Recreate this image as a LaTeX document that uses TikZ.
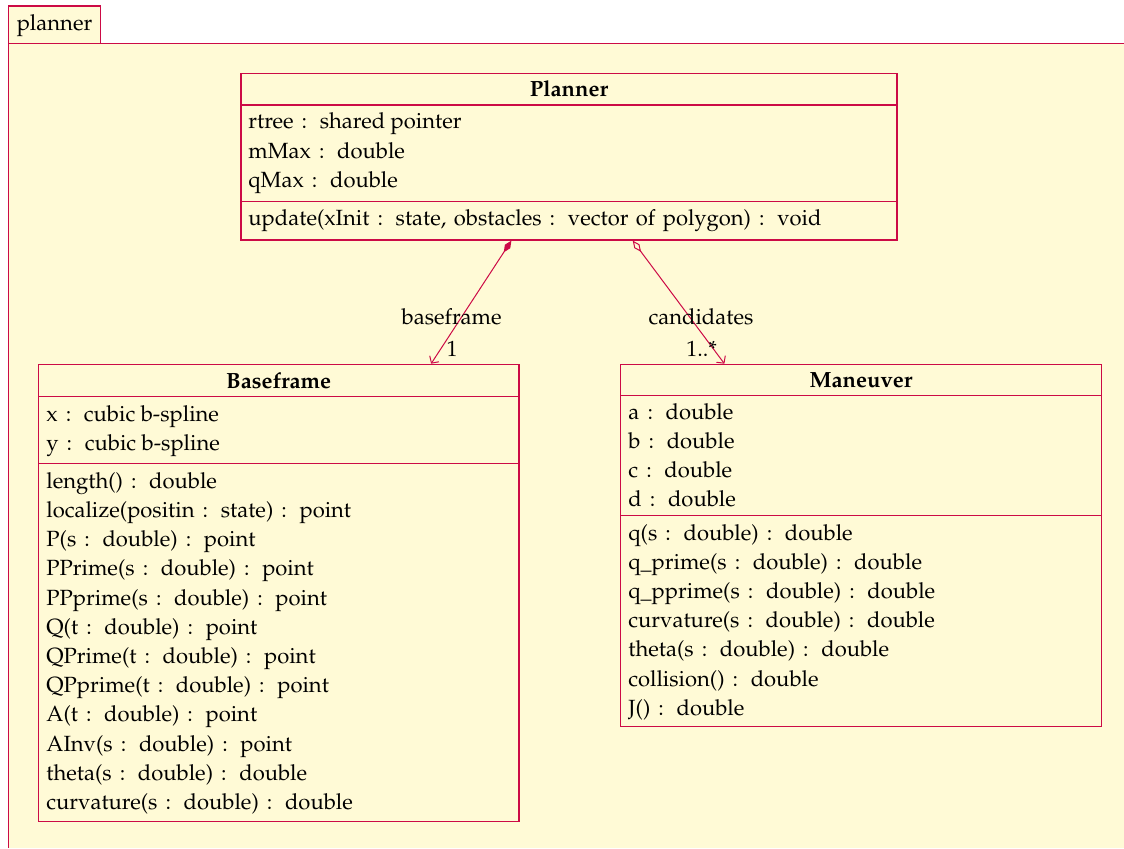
\documentclass[tikz,border=0pt]{standalone}
\usepackage[T1]{fontenc}
\usepackage{mathpazo}
\usetikzlibrary{arrows.meta}
\definecolor{umlline}{RGB}{204,10,70}
\definecolor{umlfill}{RGB}{255,250,214}
\newcommand{\ty}{\hspace{1.3pt}:\hspace{2.9pt} }
\begin{document}
\begin{tikzpicture}[x=0.5pt,y=-0.5pt,
  every node/.style={font=\fontsize{11}{13}\selectfont},
  classbox/.style={draw=umlline,fill=umlfill,line width=0.6pt,inner sep=0pt},
  sep/.style={draw=umlline,line width=0.6pt},
  txt/.style={anchor=base west,inner sep=0pt,text=black},
  ttl/.style={anchor=base,inner sep=0pt,text=black,font=\fontsize{11}{13}\selectfont\bfseries},
  lbl/.style={anchor=base,inner sep=0pt,text=black},
  pkgtab/.style={draw=umlline,fill=umlfill,line width=0.6pt,inner sep=0pt,minimum width=46.2pt,minimum height=18.65pt},
  composition/.style={draw=umlline,line width=0.5pt,{Diamond[length=7pt,width=3.2pt,fill=umlline]}-{Straight Barb[length=2.6pt,width=5.5pt]}},
  aggregation/.style={draw=umlline,line width=0.5pt,{Diamond[length=7pt,width=3.2pt,open,fill=umlfill]}-{Straight Barb[length=2.6pt,width=5.5pt]}}
]
\useasboundingbox (0,0) rectangle (1124,848);
% package
\fill[umlfill] (8.3,43.3) rectangle (1124,848);
\draw[umlline,line width=0.6pt] (8.3,848) -- (8.3,43.3) -- (1124,43.3);
\node[pkgtab] (pkg) at (54.5,24.65) {};
\node[lbl] (pkglabel) at (54.5,30.7) {planner};

% Planner
\node[classbox,minimum width=328pt,minimum height=83.35pt] (planner) at (569,156.65) {};
\draw[sep] (241,105) -- (897,105);
\draw[sep] (241,201.7) -- (897,201.7);
\node[ttl] (plT) at (569,96.7) {Planner};
\node[txt] (pl1) at (248,128.3) {rtree \ty shared pointer};
\node[txt] (pl2) at (248,158) {mMax \ty double};
\node[txt] (pl3) at (248,187.7) {qMax \ty double};
\node[txt] (pl4) at (248,225.7) {update(xInit \ty state,\hspace{1pt} obstacles \ty vector\hspace{1pt} of\hspace{1pt} polygon) \ty void};

% Baseframe
\node[classbox,minimum width=240.35pt,minimum height=228.7pt] (baseframe) at (278.65,593) {};
\draw[sep] (38.3,396.5) -- (519,396.5);
\draw[sep] (38.3,463.3) -- (519,463.3);
\node[ttl] (bfT) at (278.65,388) {Baseframe};
\node[txt] (bfa1) at (46,421.7) {x \ty cubic b-spline};
\node[txt] (bfa2) at (46,450.5) {y \ty cubic b-spline};
\node[txt] (bfo1) at (46,488.3) {length() \ty double};
\node[txt] (bfo2) at (46,517.5) {localize(positin \ty state) \ty point};
\node[txt] (bfo3) at (46,546.7) {P(s \ty double) \ty point};
\node[txt] (bfo4) at (46,575.9) {PPrime(s \ty double) \ty point};
\node[txt] (bfo5) at (46,605.1) {PPprime(s \ty double) \ty point};
\node[txt] (bfo6) at (46,634.3) {Q(t \ty double) \ty point};
\node[txt] (bfo7) at (46,663.5) {QPrime(t \ty double) \ty point};
\node[txt] (bfo8) at (46,692.7) {QPprime(t \ty double) \ty point};
\node[txt] (bfo9) at (46,721.9) {A(t \ty double) \ty point};
\node[txt] (bfo10) at (46,751.1) {AInv(s \ty double) \ty point};
\node[txt] (bfo11) at (46,780.3) {theta(s \ty double) \ty double};
\node[txt] (bfo12) at (46,809.5) {curvature(s \ty double) \ty double};

% Maneuver
\node[classbox,minimum width=240.3pt,minimum height=181.2pt] (maneuver) at (861,545.5) {};
\draw[sep] (620.7,395.5) -- (1101.3,395.5);
\draw[sep] (620.7,515.7) -- (1101.3,515.7);
\node[ttl] (mnT) at (861,387.5) {Maneuver};
\node[txt] (mna1) at (628,419) {a \ty double};
\node[txt] (mna2) at (628,448.3) {b \ty double};
\node[txt] (mna3) at (628,477.6) {c \ty double};
\node[txt] (mna4) at (628,506.8) {d \ty double};
\node[txt] (mno1) at (628,540) {q(s \ty double) \ty double};
\node[txt] (mno2) at (628,569.2) {q\_prime(s \ty double) \ty double};
\node[txt] (mno3) at (628,598.4) {q\_pprime(s \ty double) \ty double};
\node[txt] (mno4) at (628,627.6) {curvature(s \ty double) \ty double};
\node[txt] (mno5) at (628,656.8) {theta(s \ty double) \ty double};
\node[txt] (mno6) at (628,686) {collision() \ty double};
\node[txt] (mno7) at (628,715.2) {J() \ty double};

% connectors
\draw[composition] ([xshift=135.5pt]planner.south west) -- ([xshift=196.7pt]baseframe.north west);
\draw[aggregation] ([xshift=196.15pt]planner.south west) -- ([xshift=52.15pt]maneuver.north west);
\node[lbl] (bfrole) at (451.7,324.3) {baseframe};
\node[lbl] (bfmult) at (452,356) {1};
\node[lbl] (mnrole) at (701,324.3) {candidates};
\node[lbl] (mnmult) at (701.7,356) {1..*};
\end{tikzpicture}
\end{document}
